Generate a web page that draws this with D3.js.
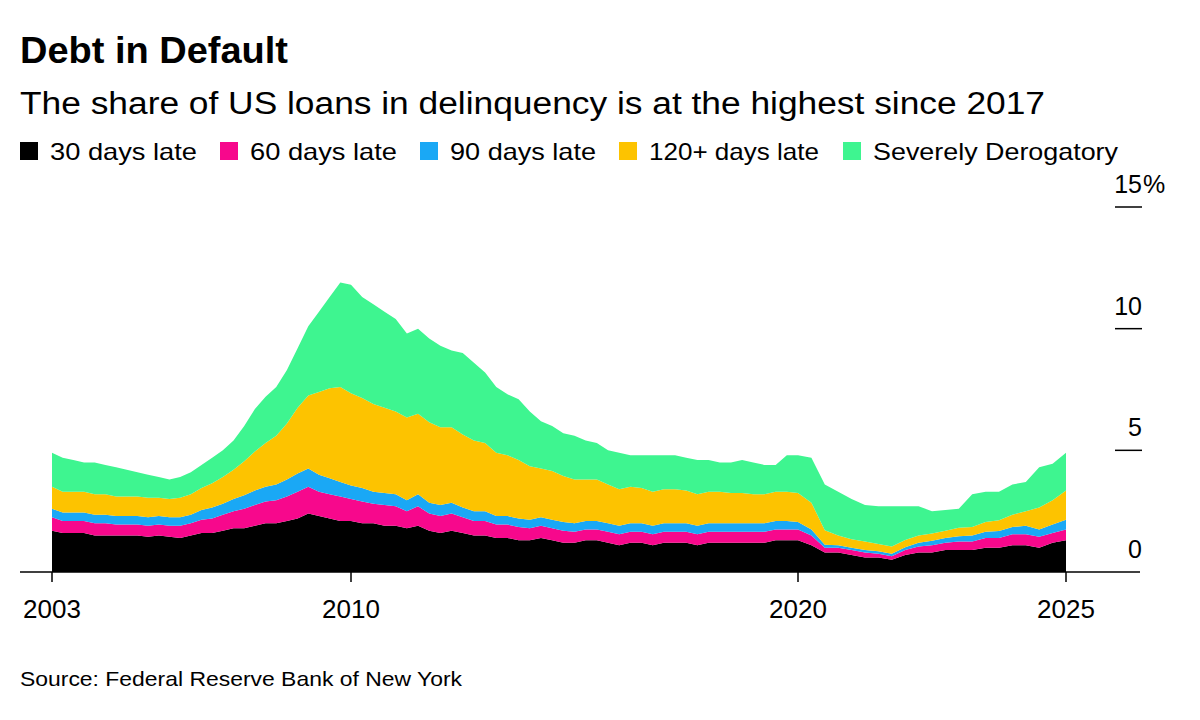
<!DOCTYPE html>
<html><head><meta charset="utf-8">
<script src="https://cdn.jsdelivr.net/npm/d3@7"></script>
<style>
body{margin:0;background:#fff;font-family:"Liberation Sans",Arial,sans-serif}
</style></head>
<body><svg id="chart" width="1200" height="720"></svg>
<script>
// quarterly, 2003 Q1 .. 2025 Q1
const startYear = 2003;
const series = ["30 days late", "60 days late", "90 days late", "120+ days late", "Severely Derogatory"];
const colors = ["#000000", "#f7088c", "#1aa8f5", "#fdc300", "#3ef590"];
const late30 = [1.7,1.6,1.6,1.6, 1.5,1.5,1.5,1.5, 1.5,1.45,1.5,1.45, 1.4,1.5,1.6,1.6, 1.7,1.8,1.8,1.9, 2.0,2.0,2.1,2.2,
  2.4,2.3,2.2,2.1, 2.1,2.0,2.0,1.9, 1.9,1.8,1.9,1.7, 1.6,1.7,1.6,1.5, 1.5,1.4,1.4,1.3, 1.3,1.4,1.3,1.2,
  1.2,1.3,1.3,1.2, 1.1,1.2,1.2,1.1, 1.2,1.2,1.2,1.1, 1.2,1.2,1.2,1.2, 1.2,1.2,1.3,1.3, 1.3,1.1,0.8,0.8,
  0.7,0.6,0.6,0.5, 0.7,0.8,0.8,0.9, 0.9,0.9,1.0,1.0, 1.1,1.1,1.0,1.2, 1.3];
const late60 = [0.55,0.5,0.5,0.5, 0.5,0.5,0.45,0.45, 0.45,0.45,0.45,0.45, 0.5,0.5,0.55,0.6, 0.65,0.7,0.8,0.85, 0.9,0.95,1.0,1.1,
  1.1,1.0,1.0,1.0, 0.9,0.9,0.8,0.85, 0.8,0.7,0.8,0.7, 0.7,0.7,0.65,0.6, 0.6,0.55,0.55,0.55, 0.5,0.5,0.5,0.5,
  0.45,0.45,0.45,0.45, 0.45,0.45,0.45,0.45, 0.45,0.45,0.45,0.45, 0.45,0.45,0.45,0.45, 0.45,0.45,0.45,0.45, 0.45,0.4,0.2,0.2,
  0.2,0.2,0.15,0.15, 0.2,0.25,0.3,0.3, 0.35,0.35,0.4,0.4, 0.45,0.45,0.45,0.4, 0.45];
const late90 = [0.35,0.35,0.35,0.35, 0.35,0.35,0.35,0.35, 0.35,0.35,0.35,0.35, 0.35,0.35,0.4,0.45, 0.45,0.5,0.55,0.6, 0.6,0.65,0.7,0.75,
  0.75,0.7,0.65,0.6, 0.55,0.55,0.5,0.5, 0.5,0.45,0.5,0.45, 0.45,0.45,0.4,0.4, 0.4,0.35,0.35,0.35, 0.35,0.35,0.35,0.35,
  0.35,0.35,0.35,0.35, 0.35,0.35,0.35,0.35, 0.35,0.35,0.35,0.35, 0.35,0.35,0.35,0.35, 0.35,0.35,0.35,0.35, 0.3,0.25,0.12,0.1,
  0.1,0.1,0.1,0.1, 0.12,0.15,0.18,0.2, 0.22,0.25,0.25,0.28, 0.3,0.35,0.3,0.35, 0.4];
const late120 = [0.9,0.85,0.85,0.85, 0.85,0.85,0.8,0.8, 0.8,0.8,0.75,0.75, 0.8,0.85,0.9,1.0, 1.1,1.2,1.4,1.6, 1.8,2.0,2.3,2.7,
  3.0,3.4,3.7,3.9, 3.8,3.7,3.6,3.5, 3.4,3.4,3.3,3.3, 3.2,3.1,3.0,2.9, 2.8,2.6,2.5,2.4, 2.2,2.0,2.0,1.9,
  1.8,1.7,1.7,1.6, 1.5,1.5,1.45,1.4, 1.4,1.4,1.35,1.3, 1.3,1.3,1.25,1.25, 1.2,1.2,1.2,1.2, 1.2,1.1,0.6,0.4,
  0.35,0.35,0.3,0.3, 0.3,0.3,0.3,0.3, 0.35,0.35,0.4,0.45, 0.5,0.6,0.9,1.0, 1.2];
const severe = [1.4,1.4,1.3,1.2, 1.3,1.2,1.2,1.1, 1.0,0.95,0.85,0.8, 0.85,0.9,0.95,1.05, 1.1,1.2,1.45,1.75, 1.9,2.0,2.2,2.45,
  2.85,3.3,3.75,4.3, 4.45,4.15,4.1,3.95, 3.8,3.45,3.5,3.45, 3.35,3.15,3.35,3.2, 2.9,2.7,2.5,2.5, 2.25,1.95,1.85,1.75,
  1.8,1.6,1.5,1.4, 1.5,1.3,1.35,1.5, 1.4,1.4,1.35,1.4, 1.3,1.2,1.25,1.35, 1.3,1.2,1.1,1.5, 1.55,1.85,1.88,1.8,
  1.65,1.5,1.55,1.65, 1.38,1.2,0.92,0.85, 0.78,1.35,1.25,1.17, 1.25,1.2,1.65,1.5, 1.55];
const xTicks = [2003, 2010, 2020, 2025];
const yTicks = [0, 5, 10, 15];

const data = late30.map((v, i) => ({
  t: startYear + i / 4,
  "30 days late": v, "60 days late": late60[i], "90 days late": late90[i],
  "120+ days late": late120[i], "Severely Derogatory": severe[i]
}));

const svg = d3.select("#chart");
const x = d3.scaleLinear().domain(xTicks).range([52, 351, 798, 1066]);
const y = d3.scaleLinear().domain([0, 15]).range([572, 207]);

// titles
svg.append("text").attr("x", 20).attr("y", 63).attr("font-size", 36).attr("font-weight", "bold")
  .attr("textLength", 268).attr("lengthAdjust", "spacingAndGlyphs").text("Debt in Default");
svg.append("text").attr("x", 20).attr("y", 114).attr("font-size", 31)
  .attr("textLength", 1025).attr("lengthAdjust", "spacingAndGlyphs")
  .text("The share of US loans in delinquency is at the highest since 2017");

// legend
const legX = [20, 220, 420, 619, 843];
const legW = [147, 147, 146, 170, 245];
const leg = svg.append("g").selectAll("g").data(series).join("g")
  .attr("transform", (d, i) => `translate(${legX[i]},142)`);
leg.append("rect").attr("width", 18).attr("height", 18).attr("fill", (d, i) => colors[i]);
leg.append("text").attr("x", 30).attr("y", 18).attr("font-size", 24)
  .attr("textLength", (d, i) => legW[i]).attr("lengthAdjust", "spacingAndGlyphs").text(d => d);

// stacked areas
const stack = d3.stack().keys(series)(data);
const area = d3.area().x(d => x(d.data.t)).y0(d => y(d[0])).y1(d => y(d[1]));
svg.append("g").selectAll("path").data(stack).join("path")
  .attr("d", area).attr("fill", (d, i) => colors[i]);

// x axis
svg.append("line").attr("x1", 20).attr("x2", 1140).attr("y1", 572).attr("y2", 572).attr("stroke", "#000").attr("stroke-width", 1.5);
const xt = svg.append("g").selectAll("g").data(xTicks).join("g").attr("transform", d => `translate(${x(d)},572)`);
xt.append("line").attr("y2", 10).attr("stroke", "#000").attr("stroke-width", 1.5);
xt.append("text").attr("y", 46).attr("text-anchor", "middle").attr("font-size", 26).text(d => d);

// y axis (right)
const yt = svg.append("g").selectAll("g").data(yTicks).join("g").attr("transform", d => `translate(0,${y(d)})`);
yt.filter(d => d > 0).append("line").attr("x1", 1115).attr("x2", 1142).attr("stroke", "#000").attr("stroke-width", 1.5);
yt.append("text").attr("x", 1142).attr("y", -14).attr("text-anchor", "end").attr("font-size", 25).text(d => d);
yt.filter(d => d === 15).append("text").attr("x", 1143).attr("y", -14).attr("font-size", 25).text("%");

svg.append("text").attr("x", 20).attr("y", 686).attr("font-size", 21)
  .attr("textLength", 442).attr("lengthAdjust", "spacingAndGlyphs").text("Source: Federal Reserve Bank of New York");
</script></body></html>
